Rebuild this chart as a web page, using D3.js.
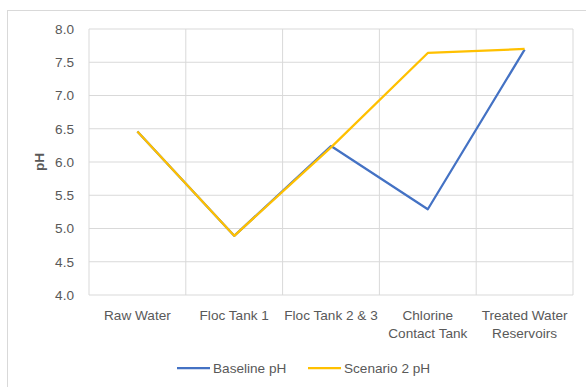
<!DOCTYPE html>
<html><head><meta charset="utf-8">
<script src="https://cdn.jsdelivr.net/npm/d3@7"></script>
<style>body{margin:0;background:#fff}svg{display:block}text{font-family:"Liberation Sans",Arial,sans-serif;fill:#595959}</style>
</head><body><svg id="c" width="586" height="387"></svg>
<script>
const categories = ["Raw Water","Floc Tank 1","Floc Tank 2 & 3","Chlorine\nContact Tank","Treated Water\nReservoirs"];
const baseline = [6.46, 4.89, 6.24, 5.29, 7.69];
const scenario2 = [6.46, 4.89, 6.22, 7.64, 7.70];
const seriesNames = ["Baseline pH","Scenario 2 pH"];
const seriesColors = ["#4472C4","#FFC000"];
const yTicks = [4.0,4.5,5.0,5.5,6.0,6.5,7.0,7.5,8.0];

const FS = 13.6;
const svg = d3.select("#c");
svg.append("rect").attr("x",7.5).attr("y",10.5).attr("width",600).attr("height",400)
  .attr("fill","none").attr("stroke","#d9d9d9");

const L=89,R=573,T=29,B=295;
const x = d3.scaleBand().domain(categories).range([L,R]);
const y = d3.scaleLinear().domain([4,8]).range([B,T]);

const g = svg.append("g");
g.selectAll("line.h").data(yTicks).join("line")
  .attr("x1",L).attr("x2",R).attr("y1",d=>y(d)).attr("y2",d=>y(d))
  .attr("stroke","#d9d9d9").attr("stroke-width",1);
const edges = categories.map(c=>x(c)).concat([R]);
g.selectAll("line.v").data(edges).join("line")
  .attr("x1",d=>d).attr("x2",d=>d).attr("y1",T).attr("y2",B)
  .attr("stroke","#d9d9d9").attr("stroke-width",1);
g.selectAll("text.yt").data(yTicks).join("text")
  .attr("x",74).attr("y",d=>y(d)).attr("dy","0.35em").attr("text-anchor","end")
  .attr("font-size",FS).text(d=>d.toFixed(1));
svg.append("text").attr("transform","translate(44,162) rotate(-90)")
  .attr("text-anchor","middle").attr("font-size",FS).attr("font-weight","bold").text("pH");
categories.forEach(c=>{
  const lines=c.split("\n");
  const t=svg.append("text").attr("text-anchor","middle").attr("font-size",FS);
  lines.forEach((ln,i)=>t.append("tspan").attr("x",x(c)+x.bandwidth()/2).attr("y",320+i*18).text(ln));
});
const line = d3.line().x((d,i)=>x(categories[i])+x.bandwidth()/2).y(d=>y(d));
[baseline,scenario2].forEach((s,k)=>{
  svg.append("path").attr("d",line(s)).attr("fill","none")
    .attr("stroke",seriesColors[k]).attr("stroke-width",2.25).attr("stroke-linejoin","round");
});
const lx=[177,308];
seriesNames.forEach((n,k)=>{
  svg.append("line").attr("x1",lx[k]).attr("x2",lx[k]+33).attr("y1",368).attr("y2",368)
    .attr("stroke",seriesColors[k]).attr("stroke-width",2.25);
  svg.append("text").attr("x",lx[k]+36).attr("y",368).attr("dy","0.35em").attr("font-size",FS).text(n);
});
</script></body></html>
